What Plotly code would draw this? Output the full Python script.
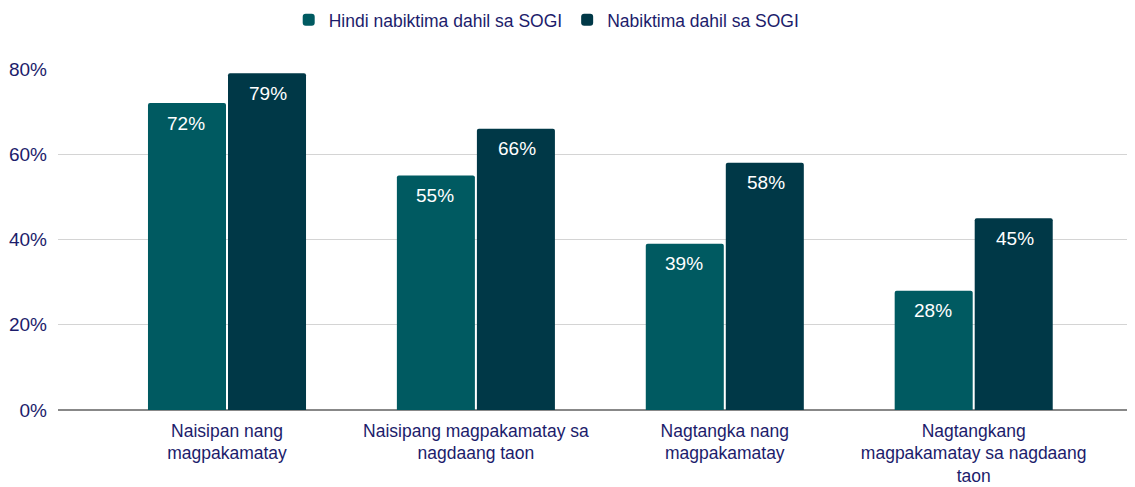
import plotly.graph_objects as go

categories = [
    "Naisipan nang<br>magpakamatay",
    "Naisipang magpakamatay sa<br>nagdaang taon",
    "Nagtangka nang<br>magpakamatay",
    "Nagtangkang<br>magpakamatay sa nagdaang<br>taon",
]
series_names = ["Hindi nabiktima dahil sa SOGI", "Nabiktima dahil sa SOGI"]
hindi = [0.72, 0.55, 0.39, 0.28]
nabiktima = [0.79, 0.66, 0.58, 0.45]
colors = ["#005a61", "#003847"]
text_color = "#1c1c6b"
FONT = "Liberation Sans, Arial"

fig = go.Figure()
for name, vals, col in zip(series_names, [hindi, nabiktima], colors):
    fig.add_trace(go.Bar(
        x=categories, y=vals, name=name,
        marker=dict(color=col, line=dict(width=0), cornerradius=2),
    ))

# value labels inside the top of each bar
for shift, vals in zip([-41, 41], [hindi, nabiktima]):
    for cat, v in zip(categories, vals):
        fig.add_annotation(
            x=cat, y=v, xref="x", yref="y", text=f"{round(v*100)}%",
            showarrow=False, xshift=shift, yshift=-20, yanchor="middle",
            font=dict(color="white", size=19, family=FONT),
        )

fig.update_layout(
    width=1127, height=479,
    margin=dict(l=50, r=2, t=61, b=77, autoexpand=False),
    paper_bgcolor="white", plot_bgcolor="white",
    barmode="group", bargap=0.357, bargroupgap=0.025,
    font=dict(family=FONT, size=18, color=text_color),
    showlegend=True,
    legend=dict(orientation="h", xref="container", yref="container",
                x=0.478, xanchor="center", y=0.975, yanchor="middle",
                font=dict(size=17.5, color=text_color),
                itemwidth=30, tracegroupgap=0),
    xaxis=dict(range=[-0.679, 3.64], showgrid=False, showline=False,
               ticks="", ticklabelstandoff=8,
               tickfont=dict(size=17.5, color=text_color)),
    yaxis=dict(range=[0, 0.8], tickvals=[0, 0.2, 0.4, 0.6, 0.8],
               tickformat=".0%", showgrid=True, gridcolor="#d4d4d4", gridwidth=1,
               zeroline=True, zerolinecolor="#888888", zerolinewidth=2,
               showline=False, ticks="", ticklabelstandoff=10,
               tickfont=dict(size=19, color=text_color)),
)

fig.write_html("out.html")
